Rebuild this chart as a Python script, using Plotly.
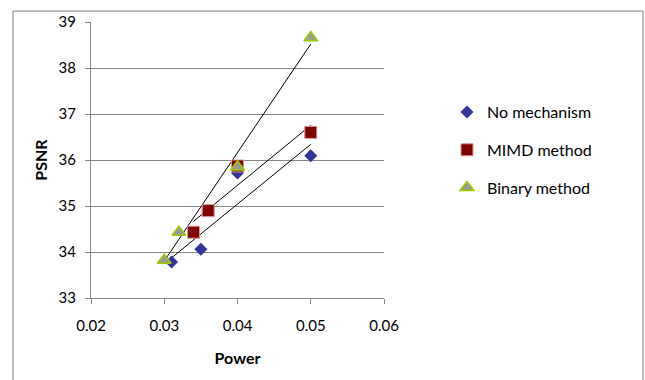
import numpy as np
import plotly.graph_objects as go

# Measured PSNR versus transmit power for each scheme
power_none = [0.031, 0.035, 0.040, 0.050]
psnr_none = [33.78, 34.06, 35.72, 36.09]

power_mimd = [0.034, 0.036, 0.040, 0.050]
psnr_mimd = [34.43, 34.90, 35.87, 36.60]

power_binary = [0.030, 0.032, 0.040, 0.050]
psnr_binary = [33.82, 34.43, 35.85, 38.66]

x_ticks = [0.02, 0.03, 0.04, 0.05, 0.06]
y_ticks = [33, 34, 35, 36, 37, 38, 39]

FONT = "Lato"
GRID = "#868686"

series = [
    ("No mechanism", power_none, psnr_none,
     dict(symbol="diamond", size=10, color="#333399", line=dict(width=0))),
    ("MIMD method", power_mimd, psnr_mimd,
     dict(symbol="square", size=12, color="#800000", line=dict(width=1, color="#d99694"))),
    ("Binary method", power_binary, psnr_binary,
     dict(symbol="triangle-up", size=12, color="#999999", line=dict(width=1.6, color="#99cc00"))),
]

fig = go.Figure()

# Least-squares linear trendline over each series' x-range
for name, xs, ys, _ in series:
    slope, intercept = np.polyfit(xs, ys, 1)
    xr = np.array([min(xs), max(xs)])
    fig.add_trace(go.Scatter(
        x=xr, y=slope * xr + intercept, mode="lines",
        line=dict(color="black", width=1), showlegend=False, hoverinfo="skip",
    ))

for i, (name, xs, ys, marker) in enumerate(series):
    fig.add_trace(go.Scatter(
        x=xs, y=ys, mode="markers", name=name, marker=marker,
        legendgroup=f"g{i}",
    ))

fig.update_layout(
    width=645, height=380,
    margin=dict(l=91, r=261, t=20, b=82),
    paper_bgcolor="white", plot_bgcolor="white",
    font=dict(family=FONT, size=15, color="black"),
    legend=dict(
        x=1.215, y=0.536, xanchor="left", yanchor="middle",
        font=dict(family=FONT, size=16), tracegroupgap=14,
        itemwidth=30, bgcolor="rgba(0,0,0,0)",
    ),
    xaxis=dict(
        range=[0.02, 0.06], tickvals=x_ticks, ticktext=[f"{v:.2f}" for v in x_ticks],
        showgrid=False, zeroline=False, showline=True, linecolor=GRID, linewidth=1,
        ticks="outside", ticklen=5, tickcolor=GRID, ticklabelstandoff=9,
        tickfont=dict(family=FONT, size=15),
        title=dict(text="<b>Power</b>", font=dict(family=FONT, size=16), standoff=19),
    ),
    yaxis=dict(
        range=[33, 39], tickvals=y_ticks,
        showgrid=True, gridcolor=GRID, gridwidth=1, zeroline=False,
        showline=True, linecolor=GRID, linewidth=1,
        ticks="outside", ticklen=5, tickcolor=GRID, ticklabelstandoff=6,
        tickfont=dict(family=FONT, size=15),
        title=dict(text="<b>PSNR</b>", font=dict(family=FONT, size=16), standoff=6),
    ),
    shapes=[dict(
        type="rect", xref="paper", yref="paper",
        x0=(13 - 91) / 293, x1=(643 - 91) / 293,
        y0=-0.5, y1=(298 - 9) / 278,
        line=dict(color="#7f7f7f", width=1), fillcolor="rgba(0,0,0,0)", layer="below",
    )],
)

fig.write_html("out.html")
